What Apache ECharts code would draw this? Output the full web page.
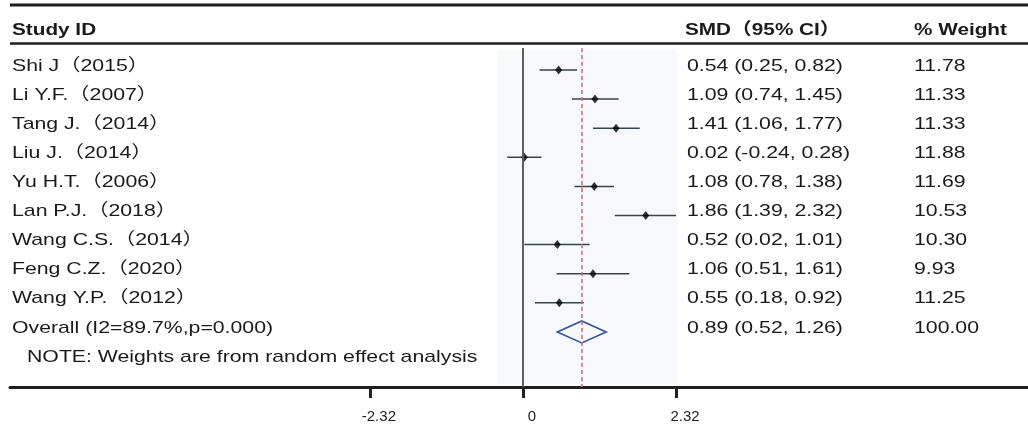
<!DOCTYPE html>
<html>
<head>
<meta charset="utf-8">
<title>Forest plot</title>
<script src="https://cdn.jsdelivr.net/npm/echarts@6.0.0/dist/echarts.min.js"></script>
<style>
  html, body { margin: 0; padding: 0; background: #fff; }
  #forest { width: 1028px; height: 430px; }
</style>
</head>
<body>
<div id="forest"></div>
<script>
// study data
var studies = ["Shi J（2015）", "Li Y.F.（2007）", "Tang J.（2014）", "Liu J.（2014）", "Yu H.T.（2006）",
  "Lan P.J.（2018）", "Wang C.S.（2014）", "Feng C.Z.（2020）", "Wang Y.P.（2012）"];
var smd = [0.54, 1.09, 1.41, 0.02, 1.08, 1.86, 0.52, 1.06, 0.55];
var ciLow = [0.25, 0.74, 1.06, -0.24, 0.78, 1.39, 0.02, 0.51, 0.18];
var ciHigh = [0.82, 1.45, 1.77, 0.28, 1.38, 2.32, 1.01, 1.61, 0.92];
var weights = ["11.78", "11.33", "11.33", "11.88", "11.69", "10.53", "10.30", "9.93", "11.25"];
var overallLabel = "Overall (I2=89.7%,p=0.000)";
var overall = [0.89, 0.52, 1.26];
var overallWeight = "100.00";
var note = "NOTE: Weights are from random effect analysis";
var headers = ["Study ID", "SMD（95% CI）", "% Weight"];
var tickValues = [-2.32, 0, 2.32];

// layout (pixels)
var ROW0 = 70, ROW_H = 29.1, GRID_TOP = 48, AXIS_Y = 387;
var ZERO_X = 523, PX_PER_UNIT = 66, LEFT = 10, W = 1028;
var COL_X = [12, 687, 914];
var TEXT_DY = -4;
var FONT = "'Liberation Sans', Arial, 'Noto Sans CJK SC', sans-serif";
var STRETCH = 1.25;

var chart = echarts.init(document.getElementById("forest"));

var xMin = (LEFT - ZERO_X) / PX_PER_UNIT;
var xMax = (W - ZERO_X) / PX_PER_UNIT;
var yMin = (GRID_TOP - ROW0) / ROW_H;
var yMax = (AXIS_Y - ROW0) / ROW_H;
var overallRow = studies.length;
var noteRow = studies.length + 1;

function textSeries(name, x, texts, rows, bold) {
  return {
    name: name,
    type: "custom",
    silent: true,
    z: 5,
    data: rows.map(function (r) { return [0, r]; }),
    renderItem: function (params, api) {
      var p = api.coord([0, api.value(1)]);
      return {
        type: "text",
        x: x,
        y: p[1] + TEXT_DY,
        scaleX: STRETCH,
        style: {
          text: texts[params.dataIndex],
          fill: "#1a1a1a",
          font: (bold ? "bold " : "") + "17px " + FONT,
          textAlign: "left",
          textVerticalAlign: "middle"
        }
      };
    }
  };
}

function fmt(v) { return v.toFixed(2); }

var rows = studies.map(function (s, i) { return i; });
var smdText = smd.map(function (v, i) {
  return fmt(v) + " (" + fmt(ciLow[i]) + ", " + fmt(ciHigh[i]) + ")";
});
smdText.push(fmt(overall[0]) + " (" + fmt(overall[1]) + ", " + fmt(overall[2]) + ")");

var option = {
  animation: false,
  backgroundColor: "#fff",
  grid: { left: LEFT, right: 0, top: GRID_TOP, bottom: 430 - AXIS_Y },
  xAxis: {
    type: "value",
    min: xMin,
    max: xMax,
    splitLine: { show: false },
    axisLine: { show: true, onZero: false, lineStyle: { color: "#1e1e1e", width: 3 } },
    axisTick: { show: true, customValues: tickValues, length: 11, lineStyle: { color: "#222", width: 3 } },
    axisLabel: {
      customValues: tickValues,
      margin: 22,
      fontSize: 15,
      fontFamily: FONT,
      color: "#222",
      padding: [0, 0, 0, 18],
      formatter: function (v) { return String(v); }
    }
  },
  yAxis: {
    type: "value",
    inverse: true,
    min: yMin,
    max: yMax,
    show: false
  },
  graphic: [
    { type: "line", shape: { x1: LEFT, y1: 5, x2: W, y2: 5 }, style: { stroke: "#1e1e1e", lineWidth: 3 } },
    { type: "line", shape: { x1: LEFT, y1: 43.5, x2: W, y2: 43.5 }, style: { stroke: "#1e1e1e", lineWidth: 2.5 } }
  ].concat(headers.map(function (h, i) {
    return {
      type: "text", x: COL_X[i] - (i === 1 ? 2 : 0), y: 30.5, scaleX: 1.22,
      style: { text: h, fill: "#1a1a1a", font: "bold 17px " + FONT, textVerticalAlign: "middle" }
    };
  })),
  series: [
    {
      // plot panel background
      type: "custom",
      silent: true,
      z: 0,
      data: [[-0.38, -0.69, 2.33, 10.79]],
      renderItem: function (params, api) {
        var a = api.coord([api.value(0), api.value(1)]);
        var b = api.coord([api.value(2), api.value(3)]);
        return { type: "rect", shape: { x: a[0], y: a[1], width: b[0] - a[0], height: b[1] - a[1] }, style: { fill: "#f7f8fc" } };
      },
      markLine: {
        silent: true,
        symbol: "none",
        label: { show: false },
        data: [
          { xAxis: 0, lineStyle: { color: "#5e5e5e", width: 2, type: "solid" } },
          { xAxis: overall[0], lineStyle: { color: "#cf6b6b", width: 1.5, type: [4, 3] } }
        ]
      }
    },
    {
      // confidence intervals
      type: "custom",
      silent: true,
      z: 3,
      data: rows.map(function (i) { return [ciLow[i], ciHigh[i], i]; }),
      renderItem: function (params, api) {
        var a = api.coord([api.value(0), api.value(2)]);
        var b = api.coord([api.value(1), api.value(2)]);
        return { type: "line", shape: { x1: a[0], y1: a[1], x2: b[0], y2: b[1] }, style: { stroke: "#33444c", lineWidth: 1.5 } };
      }
    },
    {
      type: "scatter",
      silent: true,
      z: 4,
      symbol: "diamond",
      symbolSize: [7, 9],
      itemStyle: { color: "#000" },
      data: rows.map(function (i) { return [smd[i], i]; })
    },
    {
      // overall diamond
      type: "custom",
      silent: true,
      z: 4,
      data: [[overall[1], overall[0], overall[2], overallRow]],
      renderItem: function (params, api) {
        var row = api.value(3);
        var l = api.coord([api.value(0), row]);
        var c = api.coord([api.value(1), row]);
        var r = api.coord([api.value(2), row]);
        var h = 11;
        return {
          type: "polygon",
          shape: { points: [[l[0], l[1]], [c[0], c[1] - h], [r[0], r[1]], [c[0], c[1] + h]] },
          style: { fill: "rgba(255,255,255,0)", stroke: "#2b55a6", lineWidth: 1.6 }
        };
      }
    },
    textSeries("study", COL_X[0], studies.concat([overallLabel]), rows.concat([overallRow]), false),
    textSeries("note", 27, [note], [noteRow], false),
    textSeries("smd", COL_X[1], smdText, rows.concat([overallRow]), false),
    textSeries("weight", COL_X[2], weights.concat([overallWeight]), rows.concat([overallRow]), false)
  ]
};

chart.setOption(option);
</script>
</body>
</html>
